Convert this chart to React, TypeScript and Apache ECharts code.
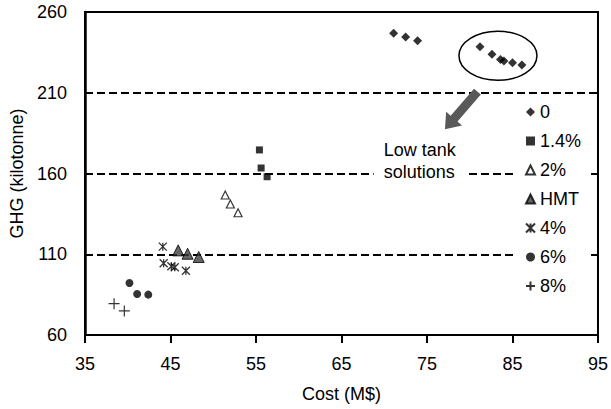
import React, { useEffect, useRef } from "react";
import * as echarts from "echarts";

// ---- data ----
const xTickValues = [35, 45, 55, 65, 75, 85, 95];
const yTickValues = [60, 110, 160, 210, 260];
const refLineValues = [110, 160, 210, 260];

const series0 = [
  [71.1, 246.8], [72.5, 244.5], [73.9, 242.2],
  [81.2, 238.5], [82.6, 233.8], [83.6, 230.6], [84.0, 229.6], [85.0, 228.6], [86.1, 227.2],
];
const series14 = [[55.4, 174.6], [55.6, 163.4], [56.3, 158.0]];
const series2 = [[51.4, 146.7], [52.0, 141.1], [52.9, 135.7]];
const seriesHMT = [[45.9, 112.4], [47.0, 110.3], [48.3, 108.3]];
const series4 = [[44.1, 114.7], [44.2, 104.4], [45.1, 102.6], [45.5, 102.0], [46.8, 99.8]];
const series6 = [[40.2, 92.2], [41.1, 85.4], [42.4, 85.0]];
const series8 = [[38.4, 79.4], [39.6, 74.9]];

// annotation anchors (data coordinates)
const ellipseCenter = [83.3, 232.9];
const arrowTail = [80.9, 210.7];
const arrowTip = [77.1, 187.4];
const noteAnchor = [68.76, 183.8];
const noteText = "Low tank\nsolutions";

const FONT = "'Liberation Sans', Arial, Helvetica, sans-serif";
const ASTERISK = "path://M0,0L10,10M10,0L0,10M5,0L5,10";
const PLUS = "path://M5,0L5,10M0,5L10,5";

export default function App() {
  const ref = useRef<HTMLDivElement>(null);
  useEffect(() => {
    if (!ref.current) return;
    const chart = echarts.init(ref.current, null, { renderer: "svg" });
    const mk = (name: string, data: number[][], symbol: string, size: number, itemStyle: any) => ({
      name,
      type: "scatter",
      data,
      symbol,
      symbolSize: size,
      itemStyle,
      z: 3,
    });
    chart.setOption({
      animation: false,
      textStyle: { fontFamily: FONT },
      grid: {
        left: 81, right: 11, top: 12, bottom: 74,
        show: true, borderColor: "#000", borderWidth: 2,
      },
      xAxis: {
        type: "value",
        min: 35, max: 95,
        name: "Cost (M$)",
        nameLocation: "middle",
        nameGap: 50,
        nameTextStyle: { fontSize: 18, color: "#000", fontFamily: FONT },
        axisLine: { show: true, lineStyle: { color: "#000", width: 2 } },
        axisTick: { show: true, length: 8, inside: false, customValues: xTickValues, lineStyle: { color: "#000", width: 2 } },
        axisLabel: { customValues: xTickValues, fontSize: 18, color: "#000", margin: 20, fontFamily: FONT },
        splitLine: { show: false },
      },
      yAxis: {
        type: "value",
        min: 60, max: 260,
        name: "GHG (kilotonne)",
        nameLocation: "middle",
        nameGap: 59,
        nameTextStyle: { fontSize: 18, color: "#000", fontFamily: FONT },
        axisLine: { show: true, lineStyle: { color: "#000", width: 2.5 } },
        axisTick: { show: false, customValues: yTickValues },
        axisLabel: { customValues: yTickValues, fontSize: 18, color: "#000", margin: 18, fontFamily: FONT },
        splitLine: { show: false },
      },
      legend: {
        orient: "vertical",
        left: 514,
        top: 98,
        backgroundColor: "#fff",
        padding: [4, 10, 6, 11],
        itemWidth: 9,
        itemHeight: 9,
        itemGap: 9,
        textStyle: { fontSize: 18, color: "#000", lineHeight: 20, fontFamily: FONT },
        data: [
          { name: "0", icon: "diamond" },
          { name: "1.4%", icon: "rect" },
          { name: "2%", icon: "triangle" },
          { name: "HMT", icon: "triangle" },
          { name: "4%", icon: ASTERISK },
          { name: "6%", icon: "circle" },
          { name: "8%", icon: PLUS },
        ],
      },
      series: [
        {
          ...mk("0", series0, "diamond", 9, { color: "#000" }),
          markLine: {
            silent: true,
            symbol: "none",
            label: { show: false },
            lineStyle: { color: "#000", type: [8, 4], width: 2 },
            data: refLineValues.map((v) => ({ yAxis: v })),
            z: 1,
          },
        },
        mk("1.4%", series14, "rect", 7, { color: "#000" }),
        mk("2%", series2, "triangle", 8, { color: "#fff", borderColor: "#000", borderWidth: 1.2 }),
        mk("HMT", seriesHMT, "triangle", 11, { color: "#404040", borderColor: "#000", borderWidth: 1 }),
        mk("4%", series4, ASTERISK, 8, { color: "rgba(0,0,0,0)", borderColor: "#000", borderWidth: 1.3 }),
        mk("6%", series6, "circle", 8, { color: "#000" }),
        mk("8%", series8, PLUS, 11, { color: "rgba(0,0,0,0)", borderColor: "#000", borderWidth: 1.2 }),
      ],
    });

    const px = (v: number[]) => chart.convertToPixel({ gridIndex: 0 }, v) as number[];
    const c = px(ellipseCenter);
    const t0 = px(arrowTail);
    const t1 = px(arrowTip);
    const nA = px(noteAnchor);
    const dx = t1[0] - t0[0], dy = t1[1] - t0[1];
    const len = Math.hypot(dx, dy);
    const ux = dx / len, uy = dy / len;
    const nx = -uy, ny = ux;
    const sw = 4.5, hw = 10.5, hl = 14;
    const bx = t1[0] - ux * hl, by = t1[1] - uy * hl;
    const arrowPts = [
      [t0[0] + nx * sw, t0[1] + ny * sw],
      [bx + nx * sw, by + ny * sw],
      [bx + nx * hw, by + ny * hw],
      [t1[0], t1[1]],
      [bx - nx * hw, by - ny * hw],
      [bx - nx * sw, by - ny * sw],
      [t0[0] - nx * sw, t0[1] - ny * sw],
    ];
    chart.setOption({
      graphic: [
        {
          type: "ellipse",
          shape: { cx: c[0], cy: c[1], rx: 39, ry: 24.5 },
          style: { fill: "none", stroke: "#000", lineWidth: 1.5 },
          z: 100,
        },
        {
          type: "polygon",
          shape: { points: arrowPts },
          style: { fill: "#595959", stroke: "none" },
          z: 100,
        },
        {
          type: "text",
          x: nA[0],
          y: nA[1],
          style: {
            text: noteText,
            fontSize: 18,
            fontFamily: FONT,
            fill: "#000",
            lineHeight: 22,
            backgroundColor: "#fff",
            padding: [4, 10],
            align: "left",
            verticalAlign: "top",
          },
          z: 100,
        },
      ],
    });
    return () => chart.dispose();
  }, []);
  return (
    <div
      ref={ref}
      style={{ position: "absolute", left: 0, top: 0, width: 611, height: 409, background: "#fff" }}
    />
  );
}
